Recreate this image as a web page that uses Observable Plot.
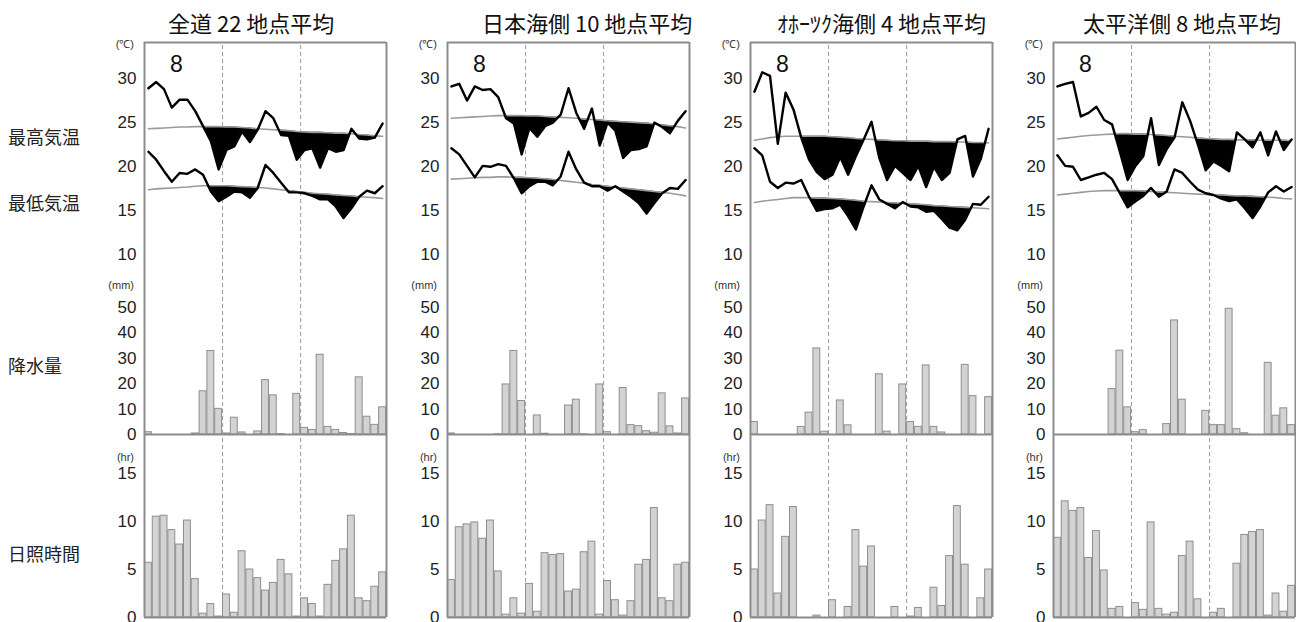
<!DOCTYPE html>
<html><head><meta charset="utf-8">
<script src="https://cdn.jsdelivr.net/npm/d3@7"></script>
<script src="https://cdn.jsdelivr.net/npm/@observablehq/plot@0.6"></script>
<style>
body{margin:0;background:#fff;}
#chart{position:relative;width:1296px;height:622px;overflow:hidden;background:#fff;font-family:"Noto Sans CJK JP","Noto Sans",sans-serif;color:#111;}
.lbl{position:absolute;white-space:nowrap;line-height:1;}
</style></head><body><div id="chart"></div>
<script>
// ---------- data ----------
const days = [1,2,3,4,5,6,7,8,9,10,11,12,13,14,15,16,17,18,19,20,21,22,23,24,25,26,27,28,29,30,31];
const regionTitles = ["全道 22 地点平均", "日本海側 10 地点平均", "ｵﾎｰﾂｸ海側 4 地点平均", "太平洋側 8 地点平均"];
const monthLabel = "8";
const rowLabels = ["最高気温", "最低気温", "降水量", "日照時間"];
const unitLabels = ["(℃)", "(mm)", "(hr)"];
const tempTicks = [10, 15, 20, 25, 30];
const precTicks = [0, 10, 20, 30, 40, 50];
const sunTicks = [0, 5, 10, 15];
const weekMarks = [10.5, 20.5];

// 全道
const maxAll = [28.9,29.6,28.8,26.7,27.6,27.6,26.3,24.6,22.9,19.7,21.9,22.3,24.0,22.8,24.2,26.3,25.5,23.6,23.5,20.8,21.9,22.1,19.9,22.1,21.7,21.9,24.3,23.2,23.1,23.3,24.9];
const normMaxAll = [24.3,24.35,24.4,24.45,24.5,24.5,24.55,24.55,24.55,24.55,24.5,24.5,24.45,24.4,24.3,24.25,24.2,24.15,24.1,24.0,23.95,23.9,23.9,23.85,23.8,23.8,23.75,23.65,23.6,23.5,23.45];
const minAll = [21.7,20.8,19.5,18.3,19.3,19.2,19.7,19.1,17.2,16.1,16.6,17.2,17.1,16.5,17.6,20.2,19.3,18.2,17.1,17.1,17.0,16.7,16.3,16.3,15.5,14.2,15.3,16.6,17.3,17.0,17.8];
const normMinAll = [17.4,17.5,17.55,17.6,17.65,17.7,17.8,17.85,17.85,17.85,17.85,17.8,17.75,17.7,17.65,17.6,17.5,17.4,17.3,17.2,17.1,17.0,16.95,16.9,16.8,16.75,16.7,16.6,16.55,16.5,16.4];
const precAll = [0.9,0,0,0,0,0,0.4,17.0,32.9,10.1,0.4,6.6,0.8,0,1.2,21.4,15.4,0.2,0,16.0,2.6,1.8,31.4,3.0,1.8,0.6,0.2,22.5,7.0,3.8,10.7];
const sunAll = [5.7,10.5,10.6,9.1,7.6,10.1,4.0,0.4,1.4,0.1,2.4,0.5,6.9,5.0,4.1,2.8,3.6,6.0,4.5,0.1,2.0,1.4,0.1,3.4,5.9,7.1,10.6,2.0,1.7,3.2,4.7];

// 日本海側
const maxJS = [29.1,29.4,27.5,29.1,28.7,28.8,27.9,25.5,24.9,21.4,24.4,23.4,24.6,25.0,25.9,28.9,26.1,24.3,26.6,22.4,25.0,24.1,21.0,21.9,22.0,22.3,25.0,24.5,23.8,25.2,26.3];
const normMaxJS = [25.5,25.55,25.6,25.65,25.7,25.75,25.8,25.8,25.8,25.8,25.75,25.75,25.7,25.65,25.6,25.55,25.5,25.4,25.35,25.3,25.2,25.15,25.1,25.05,25.0,24.95,24.85,24.75,24.65,24.55,24.4];
const minJS = [22.1,21.4,20.1,18.8,20.1,20.0,20.3,20.1,18.7,17.0,17.8,18.3,18.3,17.9,18.9,21.7,19.7,18.2,17.8,17.8,17.3,17.8,17.2,16.6,15.9,14.7,15.9,17.0,17.6,17.5,18.5];
const normMinJS = [18.6,18.65,18.7,18.75,18.8,18.8,18.85,18.85,18.8,18.8,18.75,18.7,18.65,18.55,18.45,18.35,18.25,18.15,18.0,17.9,17.8,17.7,17.6,17.5,17.4,17.3,17.2,17.1,17.0,16.85,16.7];
const precJS = [0.4,0,0,0,0,0,0.1,19.7,32.9,13.2,0,7.5,0.3,0,0,11.4,13.7,0.1,0,19.7,0.9,0,18.3,3.7,3.3,1.3,0.7,16.2,3.2,0.4,14.2];
const sunJS = [3.9,9.4,9.7,9.9,8.2,10.1,4.8,0.3,2.0,0.4,3.5,0.6,6.7,6.5,6.6,2.7,2.9,6.8,7.9,0.3,3.8,1.8,0.2,1.7,5.5,6.0,11.4,2.0,1.7,5.5,5.7];

// オホーツク海側
const maxOk = [28.5,30.7,30.3,22.6,28.4,26.5,23.3,20.8,19.4,18.6,19.1,21.1,19.1,21.2,23.1,25.1,21.0,18.5,20.1,19.3,18.5,20.1,17.7,20.0,18.5,19.3,23.1,23.5,18.9,20.9,24.3];
const normMaxOk = [23.0,23.15,23.3,23.4,23.45,23.45,23.45,23.45,23.45,23.45,23.4,23.35,23.3,23.2,23.15,23.1,23.05,23.0,22.95,22.95,22.9,22.9,22.9,22.85,22.85,22.85,22.8,22.8,22.75,22.75,22.7];
const minOk = [22.1,21.3,18.3,17.6,18.2,18.1,18.5,16.6,15.0,15.2,15.3,15.7,14.4,12.9,15.5,17.9,16.3,15.8,15.3,16.0,15.5,15.4,14.9,15.0,14.1,13.1,12.8,14.0,15.8,15.7,16.6];
const normMinOk = [15.95,16.1,16.2,16.3,16.4,16.5,16.5,16.5,16.45,16.45,16.4,16.35,16.3,16.2,16.1,16.05,16.0,15.95,15.9,15.85,15.8,15.75,15.7,15.6,15.55,15.5,15.45,15.4,15.35,15.3,15.25];
const precOk = [4.9,0,0,0,0,0,3.0,8.6,33.9,1.1,0,13.4,3.6,0,0,0,23.7,1.1,0,19.7,4.9,3.0,27.2,3.0,0.8,0,0,27.4,15.1,0,14.7];
const sunOk = [5.0,10.1,11.7,2.5,8.4,11.5,0,0,0.2,0,1.8,0,1.1,9.1,5.3,7.4,0,0,1.1,0,0.1,1.0,0,3.1,1.2,6.4,11.6,5.5,0,2.0,5.0];

// 太平洋側
const maxPa = [29.1,29.4,29.6,25.7,26.1,26.8,25.3,24.8,21.7,18.5,20.1,21.2,25.5,20.2,22.0,23.3,27.3,25.2,22.5,19.6,20.6,20.1,19.5,23.9,23.1,22.2,23.9,21.3,24.0,21.9,23.1];
const normMaxPa = [23.15,23.25,23.35,23.45,23.55,23.6,23.65,23.7,23.75,23.75,23.7,23.7,23.65,23.6,23.55,23.45,23.4,23.35,23.25,23.2,23.15,23.1,23.1,23.05,23.05,23.05,23.0,23.0,23.0,23.0,22.95];
const minPa = [21.3,20.1,20.0,18.5,18.8,19.1,19.3,18.6,17.0,15.4,16.1,16.7,17.6,16.6,17.2,19.7,19.3,18.3,17.4,17.0,16.8,16.4,16.1,16.3,15.3,14.2,15.5,17.1,17.8,17.2,17.7];
const normMinPa = [16.8,16.9,17.0,17.1,17.2,17.25,17.3,17.3,17.3,17.3,17.3,17.25,17.2,17.15,17.1,17.05,17.0,16.95,16.9,16.85,16.8,16.8,16.75,16.7,16.7,16.65,16.6,16.55,16.5,16.4,16.35];
const precPa = [0,0,0,0,0,0,0,17.9,33.0,10.7,0.9,1.7,0,0,4.1,44.9,13.7,0,0,9.3,3.7,3.7,49.5,2.1,0.5,0,0,28.2,7.4,10.3,3.7];
const sunPa = [8.3,12.1,11.1,11.4,6.2,9.0,4.9,0.9,1.1,0,1.5,0.8,9.9,0.9,0.3,0.5,6.4,7.9,1.9,0,0.5,0.9,0,5.6,8.6,8.9,9.1,0.2,2.5,0.6,3.3];

const regions = [
  {max: maxAll, normMax: normMaxAll, min: minAll, normMin: normMinAll, prec: precAll, sun: sunAll},
  {max: maxJS, normMax: normMaxJS, min: minJS, normMin: normMinJS, prec: precJS, sun: sunJS},
  {max: maxOk, normMax: normMaxOk, min: minOk, normMin: normMinOk, prec: precOk, sun: sunOk},
  {max: maxPa, normMax: normMaxPa, min: minPa, normMin: normMinPa, prec: precPa, sun: sunPa}
];

// ---------- layout ----------
const panelLefts = [144, 447, 750, 1053];
const titleLefts = [168, 482, 777, 1083];
const PW = 242, ML = 46, MR = 4;
const TEMP_TOP = 42, TEMP_H = 224, PREC_TOP = 266, PREC_H = 168, SUN_TOP = 434, SUN_H = 188;
const tempDomain = [8.70, 34.08], precDomain = [0, 66.14], sunDomain = [-0.52, 19.06];
const FRAME = "#8c8c8c", DASH = "#9a9a9a", NORMAL = "#9a9a9a";

const chart = document.getElementById("chart");
function addText(txt, x, y, size, anchor, family, color) {
  const el = document.createElement("div");
  el.className = "lbl";
  el.textContent = txt;
  el.style.left = x + "px";
  el.style.top = y + "px";
  el.style.fontSize = size + "px";
  if (family) el.style.fontFamily = family;
  if (color) el.style.color = color;
  const tx = anchor === "end" ? "-100%" : anchor === "middle" ? "-50%" : "0";
  el.style.transform = `translate(${tx},-50%)`;
  chart.appendChild(el);
}
function place(svg, left, top) {
  svg.style.position = "absolute";
  svg.style.left = left + "px";
  svg.style.top = top + "px";
  chart.appendChild(svg);
}
function base(h, dom) {
  return {
    width: ML + PW + MR, height: h,
    marginLeft: ML, marginRight: MR, marginTop: 0, marginBottom: 0,
    x: {domain: [0.5, 31.5], axis: null},
    y: {domain: dom},
    style: {fontFamily: '"Liberation Sans", Arial, sans-serif', fontSize: "17px", color: "#222", background: "transparent", overflow: "visible"}
  };
}
const hasDiff = typeof Plot.differenceY === "function";
function deficit(rows, obs, norm) {
  if (hasDiff) {
    return [Plot.differenceY(rows, {x: "day", y1: norm, y2: obs,
      positiveFill: "#000", positiveFillOpacity: 0,
      negativeFill: "#000", negativeFillOpacity: 1, stroke: "none"})];
  }
  return [
    Plot.areaY(rows, {x: "day", y1: tempDomain[0], y2: norm, fill: "#000"}),
    Plot.areaY(rows, {x: "day", y1: tempDomain[0], y2: obs, fill: "#fff"})
  ];
}

regions.forEach((r, i) => {
  const L = panelLefts[i];
  const rows = days.map((d, k) => ({day: d, max: r.max[k], normMax: r.normMax[k], min: r.min[k], normMin: r.normMin[k], prec: r.prec[k], sun: r.sun[k]}));
  const bar = (key) => Plot.rect(rows, {x1: d => d.day - 0.5, x2: d => d.day + 0.5, y1: 0, y2: key,
    fill: "#d3d3d3", stroke: "#8e8e8e", strokeWidth: 1, insetLeft: 0.45, insetRight: 0.45});
  const dashes = (y1, y2) => Plot.ruleX(weekMarks, {y1, y2, stroke: DASH, strokeWidth: 1, strokeDasharray: "4,3"});
  const sides = (y1, y2) => Plot.ruleX([0.5, 31.5], {y1, y2, stroke: FRAME, strokeWidth: 2});

  // temperature
  const tempMarks = [];
  if (hasDiff) tempMarks.push(dashes(tempDomain[0], tempDomain[1]));
  tempMarks.push(...deficit(rows, "max", "normMax"), ...deficit(rows, "min", "normMin"));
  if (!hasDiff) tempMarks.push(dashes(tempDomain[0], tempDomain[1]));
  tempMarks.push(
    Plot.lineY(rows, {x: "day", y: "normMax", stroke: NORMAL, strokeWidth: 1.6}),
    Plot.lineY(rows, {x: "day", y: "normMin", stroke: NORMAL, strokeWidth: 1.6}),
    Plot.lineY(rows, {x: "day", y: "max", stroke: "#000", strokeWidth: 2.4}),
    Plot.lineY(rows, {x: "day", y: "min", stroke: "#000", strokeWidth: 2.4}),
    sides(tempDomain[0], tempDomain[1]),
    Plot.ruleY([tempDomain[1]], {stroke: FRAME, strokeWidth: 2}),
    Plot.axisY({ticks: tempTicks, tickSize: 0, tickPadding: 8, label: null})
  );
  place(Plot.plot({...base(TEMP_H, tempDomain), marks: tempMarks}), L - ML, TEMP_TOP);

  // precipitation
  place(Plot.plot({...base(PREC_H, precDomain), marks: [
    dashes(precDomain[0], precDomain[1]),
    bar("prec"),
    sides(precDomain[0], precDomain[1]),
    Plot.ruleY([0], {stroke: FRAME, strokeWidth: 2}),
    Plot.axisY({ticks: precTicks, tickSize: 0, tickPadding: 8, label: null})
  ]}), L - ML, PREC_TOP);

  // sunshine
  place(Plot.plot({...base(SUN_H, sunDomain), marks: [
    dashes(0, sunDomain[1]),
    bar("sun"),
    sides(0, sunDomain[1]),
    Plot.ruleY([0], {stroke: FRAME, strokeWidth: 2}),
    Plot.axisY({ticks: sunTicks, tickSize: 0, tickPadding: 8, label: null})
  ]}), L - ML, SUN_TOP);

  // texts
  addText(regionTitles[i], titleLefts[i], 22, 22, "start", null, "#111");
  addText(monthLabel, L + 26, 64, 23, "start", '"Liberation Sans", Arial, sans-serif', "#111");
  addText(unitLabels[0], L - 10, 44, 11, "end", '"Liberation Sans", Arial, sans-serif', "#333");
  addText(unitLabels[1], L - 10, 285, 11, "end", '"Liberation Sans", Arial, sans-serif', "#333");
  addText(unitLabels[2], L - 10, 457, 11, "end", '"Liberation Sans", Arial, sans-serif', "#333");
});

addText(rowLabels[0], 8, 136, 18, "start", null, "#222");
addText(rowLabels[1], 8, 202, 18, "start", null, "#222");
addText(rowLabels[2], 8, 365, 18, "start", null, "#222");
addText(rowLabels[3], 8, 553, 18, "start", null, "#222");
</script>
</body></html>
